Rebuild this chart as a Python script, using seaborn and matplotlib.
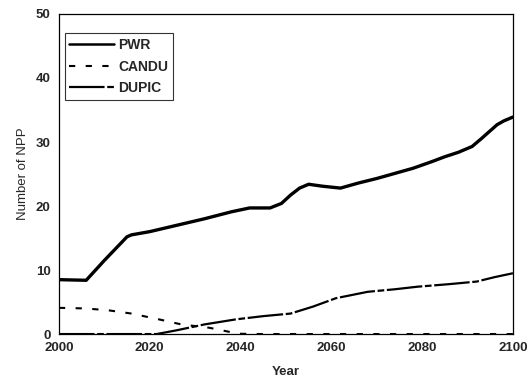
import matplotlib
matplotlib.use("Agg")
import matplotlib.pyplot as plt
import seaborn as sns
import pandas as pd

pwr_years = [2000, 2006, 2010, 2015, 2016, 2020, 2026, 2032, 2038, 2042, 2046.5, 2049, 2051, 2053, 2055, 2058, 2062, 2066, 2070, 2074, 2078, 2082, 2085, 2088, 2091, 2093, 2096.5, 2098, 2100]
pwr_vals = [8.5, 8.4, 11.5, 15.2, 15.5, 16.0, 17.0, 18.0, 19.1, 19.7, 19.7, 20.4, 21.7, 22.8, 23.4, 23.1, 22.8, 23.6, 24.3, 25.1, 25.9, 26.9, 27.7, 28.4, 29.3, 30.5, 32.7, 33.3, 33.9]

candu_years = [2000, 2006, 2011, 2016, 2022, 2027, 2033, 2036.5, 2039.5, 2045, 2060, 2080, 2100]
candu_vals = [4.1, 4.0, 3.7, 3.2, 2.3, 1.5, 1.0, 0.5, 0.05, 0.0, 0.0, 0.0, 0.0]

dupic_years = [2000, 2021.5, 2026, 2032, 2039, 2045, 2051, 2056, 2061, 2068, 2074, 2079, 2086, 2092, 2096, 2100]
dupic_vals = [0.0, 0.0, 0.6, 1.5, 2.3, 2.8, 3.2, 4.3, 5.6, 6.6, 7.0, 7.4, 7.8, 8.2, 8.9, 9.5]

sns.set_style("white")
plt.rcParams['font.family'] = ['Liberation Sans', 'DejaVu Sans']

fig = plt.figure(figsize=(5.31, 3.88), dpi=100)
ax = fig.add_axes([0.111, 0.139, 0.855, 0.825])

sns.lineplot(x=pwr_years, y=pwr_vals, ax=ax, color="black", linewidth=2.4, label="PWR")
sns.lineplot(x=candu_years, y=candu_vals, ax=ax, color="black", linewidth=1.5, label="CANDU")
sns.lineplot(x=dupic_years, y=dupic_vals, ax=ax, color="black", linewidth=1.6, label="DUPIC")
lines = ax.get_lines()
lines[1].set_dashes((3, 5))
lines[2].set_dashes((16, 1.2, 3, 1.2))

ax.set_xlim(2000, 2100)
ax.set_ylim(0, 50)
ax.set_xticks([2000, 2020, 2040, 2060, 2080, 2100])
ax.set_yticks([0, 10, 20, 30, 40, 50])
ax.tick_params(direction="in", length=3, width=0.8, labelsize=9.5, pad=6)
for lab in ax.get_xticklabels() + ax.get_yticklabels():
    lab.set_fontweight("bold")
for s in ax.spines.values():
    s.set_color("black")
    s.set_linewidth(0.9)

ax.set_xlabel("Year", fontsize=9.5, fontweight="bold", labelpad=8)
ax.set_ylabel("Number of NPP", fontsize=9.5, labelpad=5)

leg = ax.legend(loc="upper left", bbox_to_anchor=(0.0125, 0.94), frameon=True, fancybox=False,
                fontsize=10, handlelength=3.2, borderpad=0.35, labelspacing=0.55,
                handletextpad=0.3, borderaxespad=0)
leg.get_frame().set_edgecolor("black")
leg.get_frame().set_linewidth(0.8)
for t in leg.get_texts():
    t.set_fontweight("bold")
leg.get_lines()[0].set_linewidth(1.8)

fig.savefig("out.png", dpi=100)
